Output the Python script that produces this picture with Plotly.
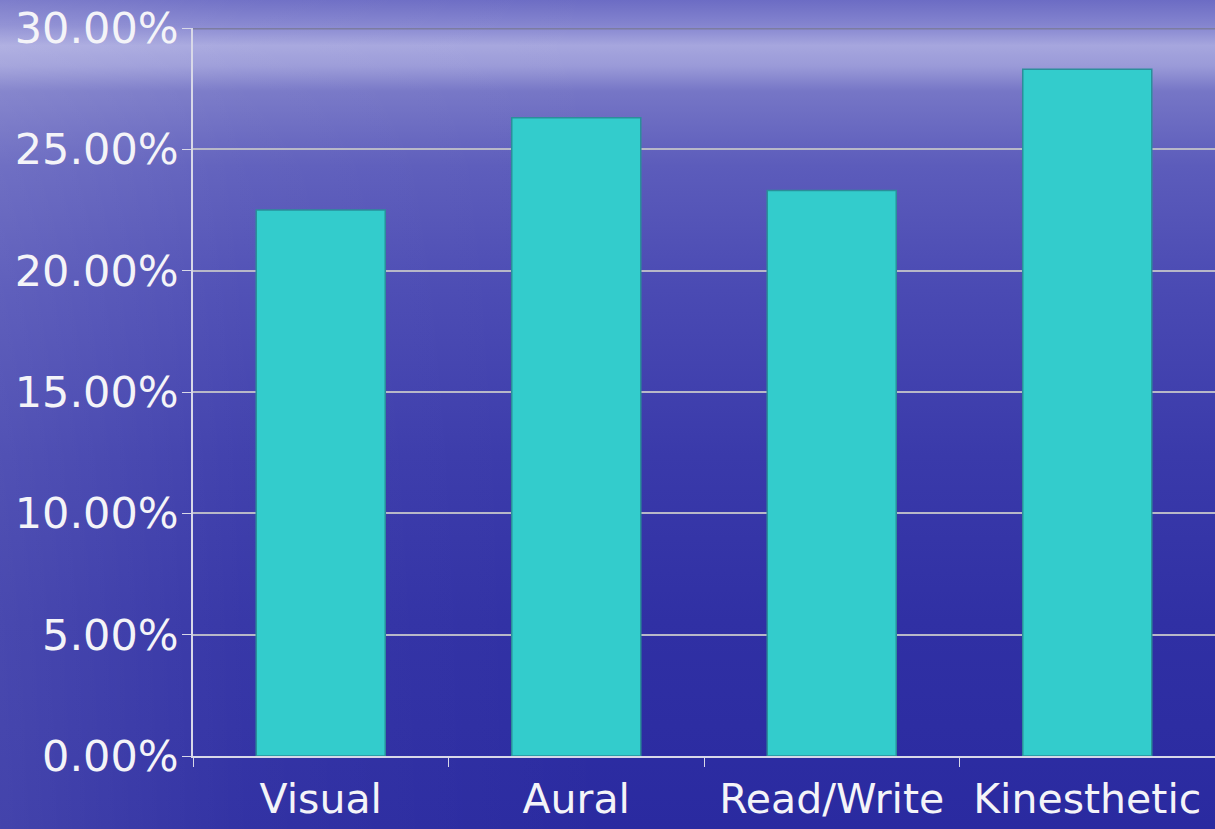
import plotly.graph_objects as go
import base64

categories = ["Visual", "Aural", "Read/Write", "Kinesthetic"]
values = [0.225, 0.263, 0.233, 0.283]
y_ticks = [0, 0.05, 0.10, 0.15, 0.20, 0.25, 0.30]

W, H = 1215, 829
ML, MR, MT, MB = 193, 0, 28, 73
pw, ph = W - ML - MR, H - MT - MB

svg = f'''<svg xmlns="http://www.w3.org/2000/svg" width="{W}" height="{H}" viewBox="0 0 {W} {H}" preserveAspectRatio="none">
<defs>
<linearGradient id="g" x1="0" y1="0" x2="0" y2="1">
<stop offset="0" stop-color="#6c6cc4"/>
<stop offset="0.03" stop-color="#8484cf"/>
<stop offset="0.055" stop-color="#a6a6de"/>
<stop offset="0.08" stop-color="#9a9ad8"/>
<stop offset="0.11" stop-color="#7676c6"/>
<stop offset="0.2" stop-color="#5c5cbb"/>
<stop offset="0.35" stop-color="#4a4ab3"/>
<stop offset="0.55" stop-color="#3a3aaa"/>
<stop offset="0.75" stop-color="#3030a4"/>
<stop offset="1" stop-color="#2a2aa0"/>
</linearGradient>
<linearGradient id="h" x1="0" y1="0" x2="1" y2="0">
<stop offset="0" stop-color="#ffffff" stop-opacity="0.12"/>
<stop offset="0.2" stop-color="#ffffff" stop-opacity="0.04"/>
<stop offset="0.5" stop-color="#ffffff" stop-opacity="0"/>
</linearGradient>
</defs>
<rect width="{W}" height="{H}" fill="url(#g)"/>
<rect width="{W}" height="{H}" fill="url(#h)"/>
</svg>'''
src = "data:image/svg+xml;base64," + base64.b64encode(svg.encode()).decode()

fig = go.Figure()
fig.add_trace(go.Bar(
    x=categories, y=values,
    marker=dict(color="#33CCCC", line=dict(color="#2a8f9a", width=1.5)),
    hoverinfo="skip",
))

fig.add_layout_image(dict(
    source=src, xref="paper", yref="paper",
    x=-ML / pw, y=1 + MT / ph, sizex=W / pw, sizey=H / ph,
    sizing="stretch", xanchor="left", yanchor="top", layer="below", opacity=1,
))

font_family = "DejaVu Sans"
fig.update_layout(
    width=W, height=H,
    margin=dict(l=ML, r=MR, t=MT, b=MB, pad=0),
    paper_bgcolor="#3434a6",
    plot_bgcolor="rgba(0,0,0,0)",
    bargap=0.495,
    showlegend=False,
    font=dict(family=font_family, color="#f4f4f8"),
    xaxis=dict(
        type="category",
        tickson="boundaries",
        ticks="outside", ticklen=9, tickcolor="#d8d8e8", tickwidth=1,
        showline=True, linecolor="#d8d8e8", linewidth=1.5,
        showgrid=False,
        ticklabelstandoff=6,
        tickfont=dict(size=41, family=font_family, color="#f4f4f8"),
    ),
    yaxis=dict(
        range=[0, 0.30],
        tickvals=y_ticks,
        tickformat=".2%",
        ticks="outside", ticklen=9, tickcolor="#d8d8e8", tickwidth=1,
        showline=True, linecolor="#d8d8e8", linewidth=1.5,
        showgrid=True, gridcolor="#b8b8c8", gridwidth=1.5,
        zeroline=False,
        ticklabelstandoff=-5,
        tickfont=dict(size=43, family=font_family, color="#f4f4f8"),
    ),
)

fig.add_shape(type="line", xref="paper", yref="y", x0=0, x1=1, y0=0.30, y1=0.30,
              line=dict(color="#7c7ca0", width=3), layer="above")

fig.write_html(
    "out.html",
    config={"displayModeBar": False},
    post_script="document.body.style.margin='0';document.body.style.overflow='hidden';",
)
